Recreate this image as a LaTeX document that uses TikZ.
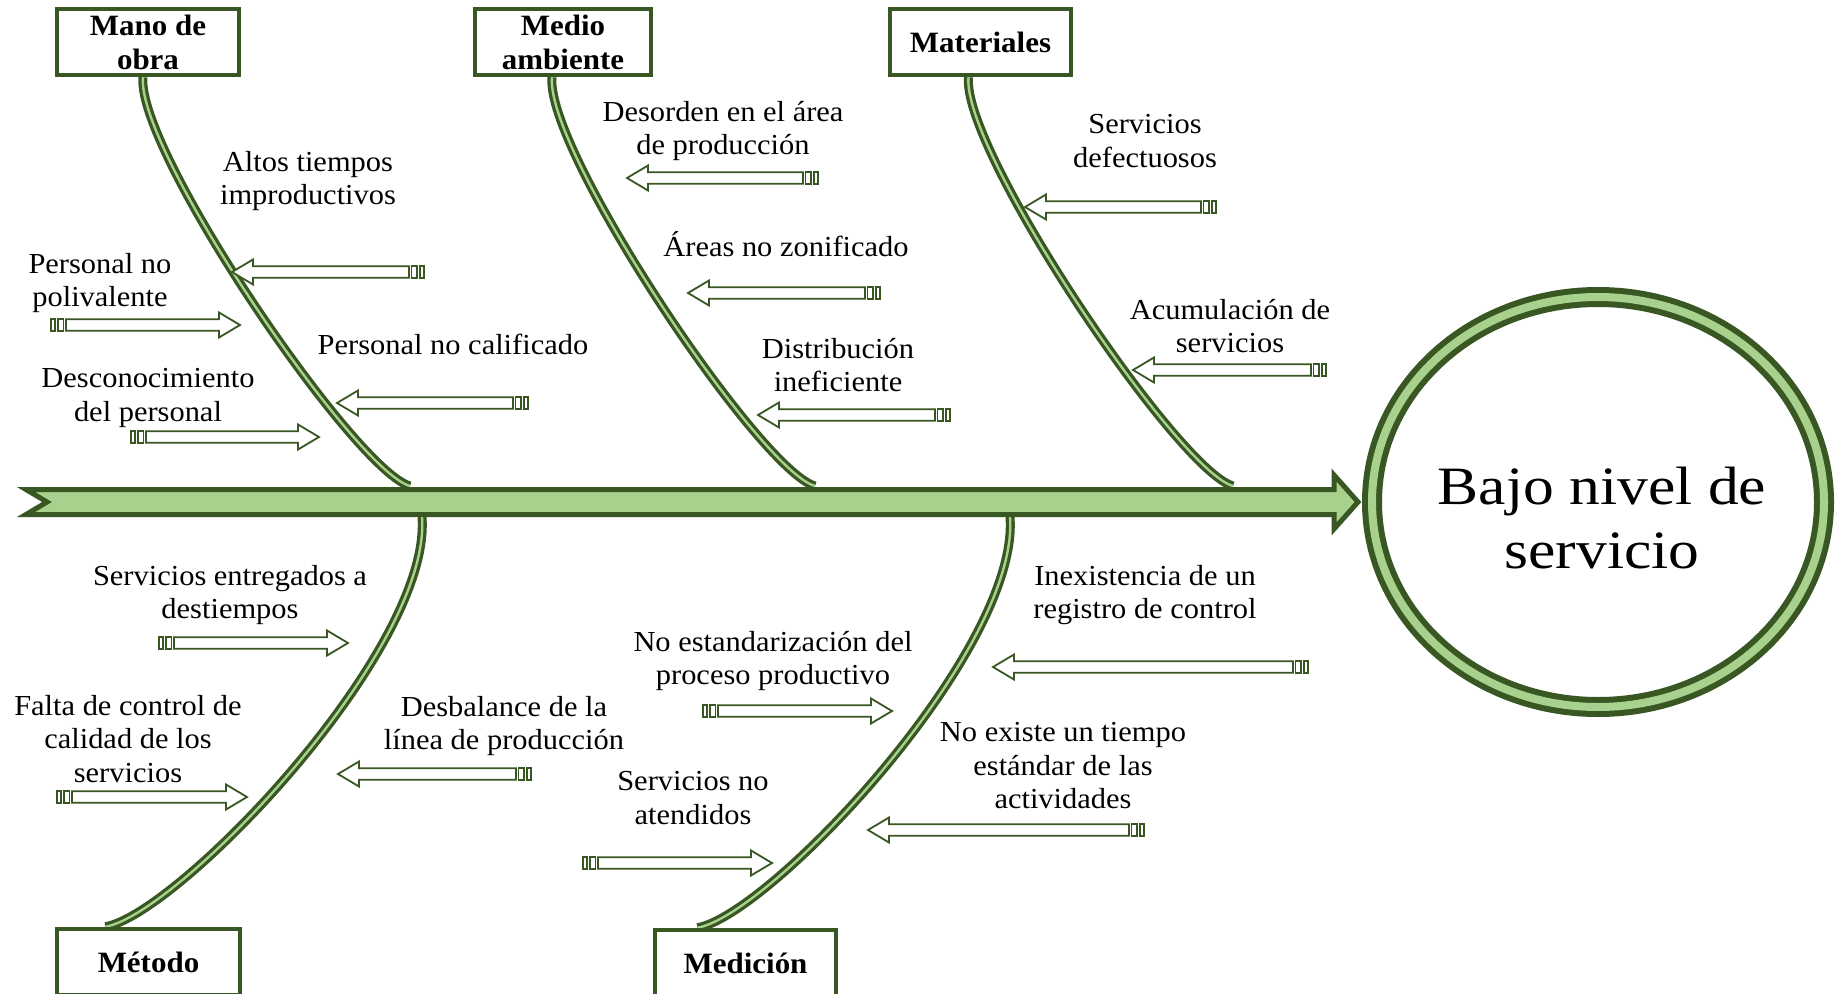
\documentclass[tikz,border=0pt]{standalone}
\usepackage{fontspec}
\setmainfont{Liberation Serif}
\newfontfamily\causefont{Liberation Serif}[FakeStretch=1.05]
\newfontfamily\headfont{Liberation Serif}[FakeStretch=1.05]
\newfontfamily\effectfont{Liberation Serif}[FakeStretch=1.14]
\usetikzlibrary{calc}
\definecolor{bonedark}{HTML}{385723}
\definecolor{bonelight}{HTML}{A9D18E}

% Striped block arrow: #1 tip x, #2 y, #3 overall length, #4 direction (1 = points left, -1 = points right)
\newcommand{\causearrow}[4]{%
  \begin{scope}[shift={(#1,#2)}, xscale=#4]
    \draw[causearrowline] (0,0) -- (21,-12.5) -- (21,-5.8) -- ({#3-16},-5.8)
      -- ({#3-16},5.8) -- (21,5.8) -- (21,12.5) -- cycle;
    \draw[causearrowline] ({#3-13.5},-5.8) rectangle ({#3-8},5.8);
    \draw[causearrowline] ({#3-5},-5.8) rectangle ({#3-1},5.8);
  \end{scope}}

\begin{document}
\begin{tikzpicture}[x=1pt, y=-1pt,
  categorybox/.style={draw=bonedark, line width=4.5pt, fill=white, align=center,
    font=\headfont\fontsize{29.5}{34}\selectfont\bfseries, inner sep=0pt, minimum height=66pt},
  causetext/.style={align=center, font=\causefont\fontsize{29}{33.5}\selectfont, inner sep=0pt},
  causearrowline/.style={draw=bonedark, line width=1.8pt, fill=white, line join=miter},
  bone/.style={draw=bonedark, line width=3.3pt, double=bonelight, double distance=2.4pt},
  spine/.style={draw=bonedark, fill=bonelight, line width=5pt, line join=miter},
]
\useasboundingbox (0,0) rectangle (1836,993);
\fill[white] (0,0) rectangle (1836,993);
\clip (0,0) rectangle (1836,993);

% category boxes
\node[categorybox, minimum width=182pt] (mano) at (148,42) {Mano de\\obra};
\node[categorybox, minimum width=176pt] (medio) at (563,42) {Medio\\ambiente};
\node[categorybox, minimum width=181pt] (mat) at (980.5,42) {Materiales};
\node[categorybox, minimum width=183pt] (metodo) at (148.5,962) {Método};
\node[categorybox, minimum width=181pt] (medicion) at (745.5,963) {Medición};

% points where the bones meet the spine
\coordinate (jmano) at (410,486);
\coordinate (jmedio) at (815,486);
\coordinate (jmat) at (1233,486);
\coordinate (jmetodo) at (422,517);
\coordinate (jmedicion) at (1010,517);

% bones
\draw[bone] ([xshift=-5pt]mano.south) .. controls +(-7,73) and +(-55,-15) .. (jmano);
\draw[bone] ([xshift=-11pt]medio.south) .. controls +(-7,73) and +(-55,-15) .. (jmedio);
\draw[bone] ([xshift=-12pt]mat.south) .. controls +(-7,73) and +(-55,-15) .. (jmat);
\draw[bone] (jmetodo) .. controls +(10,133) and +(73,-13) .. ([xshift=-43pt]metodo.north);
\draw[bone] (jmedicion) .. controls +(10,133) and +(73,-13) .. ([xshift=-48pt]medicion.north);

% spine arrow
\draw[spine] (26,489.5) -- (1334,489.5) -- (1334,475) -- (1358,502) -- (1334,529)
  -- (1334,514.5) -- (26,514.5) -- (47,502) -- cycle;

% redraw boxes over bone ends
\node[categorybox, minimum width=182pt] at (mano) {Mano de\\obra};
\node[categorybox, minimum width=176pt] at (medio) {Medio\\ambiente};
\node[categorybox, minimum width=181pt] at (mat) {Materiales};
\node[categorybox, minimum width=183pt] at (metodo) {Método};
\node[categorybox, minimum width=181pt] at (medicion) {Medición};

% effect
\draw[bonedark, line width=20pt] (1598,502) ellipse [x radius=226, y radius=205];
\draw[bonelight, line width=8pt] (1598,502) ellipse [x radius=226, y radius=205];
\node[align=center, inner sep=0pt, font=\effectfont\fontsize{54}{64}\selectfont] (effect) at (1602,518) {Bajo nivel de\\servicio};

% causes
\node[causetext] (c1) at (308,181) {Altos tiempos\\improductivos};
\node[causetext] (c2) at (100,283) {Personal no\\polivalente};
\node[causetext] (c3) at (453,344) {Personal no calificado};
\node[causetext] (c4) at (148,398) {Desconocimiento\\del personal};
\node[causetext] (c5) at (723,131) {Desorden en el área\\de producción};
\node[causetext] (c6) at (786,244) {Áreas no zonificado};
\node[causetext] (c7) at (838,365) {Distribución\\ineficiente};
\node[causetext] (c8) at (1145,141) {Servicios\\defectuosos};
\node[causetext] (c9) at (1230,326) {Acumulación de\\servicios};
\node[causetext] (c10) at (230,595) {Servicios entregados a\\destiempos};
\node[causetext] (c11) at (128,739) {Falta de control de\\calidad de los\\servicios};
\node[causetext] (c12) at (504,726) {Desbalance de la\\línea de producción};
\node[causetext] (c13) at (773,661) {No estandarización del\\proceso productivo};
\node[causetext] (c14) at (693,798) {Servicios no\\atendidos};
\node[causetext] (c15) at (1145,595) {Inexistencia de un\\registro de control};
\node[causetext] (c16) at (1063,766) {No existe un tiempo\\estándar de las\\actividades};

% cause arrows
\causearrow{232}{272}{193}{1}
\causearrow{240}{325}{190}{-1}
\causearrow{337}{403}{192}{1}
\causearrow{319}{437}{189}{-1}
\causearrow{627}{178}{192}{1}
\causearrow{688}{293}{193}{1}
\causearrow{758}{415}{193}{1}
\causearrow{1025}{207}{192}{1}
\causearrow{1133}{370}{194}{1}
\causearrow{348}{643}{190}{-1}
\causearrow{247}{797}{191}{-1}
\causearrow{338}{774}{194}{1}
\causearrow{892}{711}{190}{-1}
\causearrow{772}{863}{190}{-1}
\causearrow{993}{667}{316}{1}
\causearrow{868}{830}{277}{1}
\end{tikzpicture}
\end{document}
